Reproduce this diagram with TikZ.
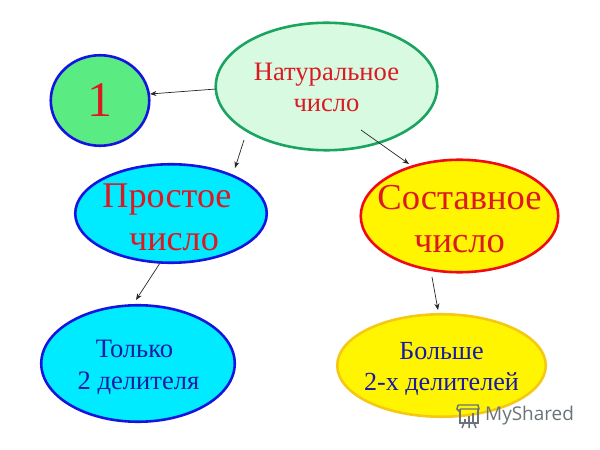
\documentclass[tikz,border=0pt]{standalone}
\usepackage{fontspec}
\setmainfont{Liberation Serif}
\setsansfont{Open Sans}
\usetikzlibrary{shapes.geometric,arrows.meta}
\definecolor{bl}{RGB}{20,20,225}
\definecolor{txb}{RGB}{25,25,165}
\definecolor{rd}{RGB}{240,10,20}
\definecolor{txr}{RGB}{220,25,35}
\definecolor{gr}{RGB}{25,165,95}
\definecolor{cy}{RGB}{0,235,255}
\definecolor{lg}{RGB}{90,235,130}
\definecolor{pg}{RGB}{215,250,225}
\definecolor{gd}{RGB}{245,200,20}
\definecolor{yl}{RGB}{255,245,0}
\definecolor{lgo}{RGB}{105,115,120}
\tikzset{
 el/.style={ellipse,line width=2.6pt,minimum width=#1,inner sep=0pt,anchor=center},
 lbl/.style={inner sep=0pt,align=center,anchor=center},
 conn/.style={draw=black!85,line width=0.7pt,-{Stealth[length=6.5bp,width=5bp]}},
 lgl/.style={draw=lgo,line width=1.5pt}
}
\begin{document}
\begin{tikzpicture}[x=1bp,y=-1bp]
\useasboundingbox[fill=white] (0,0) rectangle (600,450);
\node[el=98.5bp,draw=bl,fill=lg,minimum height=90.5bp] (one) at (100,100.5) {};
\node[el=221.5bp,draw=gr,fill=pg,minimum height=127.5bp] (nat) at (326.5,86.5) {};
\node[el=191.5bp,draw=bl,fill=cy,minimum height=98.5bp] (pr) at (171,213.5) {};
\node[el=197.5bp,draw=rd,fill=yl,minimum height=112.5bp] (sos) at (459.5,216) {};
\node[el=193.5bp,draw=bl,fill=cy,minimum height=116.5bp] (tol) at (138,363.5) {};
\node[el=208.5bp,draw=gd,fill=yl,minimum height=102.5bp] (bol) at (441.5,365.5) {};
\node[lbl,text=txr,font=\fontsize{50}{50}\selectfont] (onet) at (100,100) {1};
\node[lbl,text=txr,font=\fontsize{26.7}{31}\selectfont] (natt) at (326.5,87) {Натуральное\\число};
\node[lbl,text=txr,font=\fontsize{36.3}{43}\selectfont] (prt) at (171,217) {Простое\hspace*{8bp}\\\hspace*{6bp}число};
\node[lbl,text=txr,font=\fontsize{36.7}{43}\selectfont] (sost) at (459.5,219) {Составное\\число};
\node[lbl,text=txb,font=\fontsize{26.7}{32}\selectfont] (tolt) at (138.5,367) {Только\hspace*{8bp}\\2 делителя};
\node[lbl,text=txb,font=\fontsize{26.2}{31}\selectfont] (bolt) at (441.5,369) {Больше\\2-х делителей};
\coordinate (a1) at (216,89); \coordinate (a2) at (150,94);
\coordinate (b1) at (244,140); \coordinate (b2) at (235,168);
\coordinate (c1) at (361,130); \coordinate (c2) at (409,164);
\coordinate (d1) at (160,263); \coordinate (d2) at (136,300);
\coordinate (e1) at (432,277); \coordinate (e2) at (438,310);
\draw[conn] (a1) -- (a2);
\draw[conn] (b1) -- (b2);
\draw[conn] (c1) -- (c2);
\draw[conn] (d1) -- (d2);
\draw[conn] (e1) -- (e2);
\node[font=\sffamily\fontsize{19}{19}\selectfont,text=lgo,anchor=west,inner sep=0pt] (ms) at (485,415.5) {MyShared};
% logo icon
\draw[lgl] (458,405) -- (478,405) -- (479,409) -- (460,409) (458,405) -- (457,409) -- (460,412);
\draw[lgl] (460,409) -- (460,423) -- (478,423) -- (478,409);
\draw[lgl] (464,423) -- (462,428) (469,423) -- (469,428) (474,423) -- (476,428);
\draw[draw=lgo,line width=2pt] (465,422) -- (465,419) (469,422) -- (469,416) (473,422) -- (473,413);
\end{tikzpicture}
\end{document}
